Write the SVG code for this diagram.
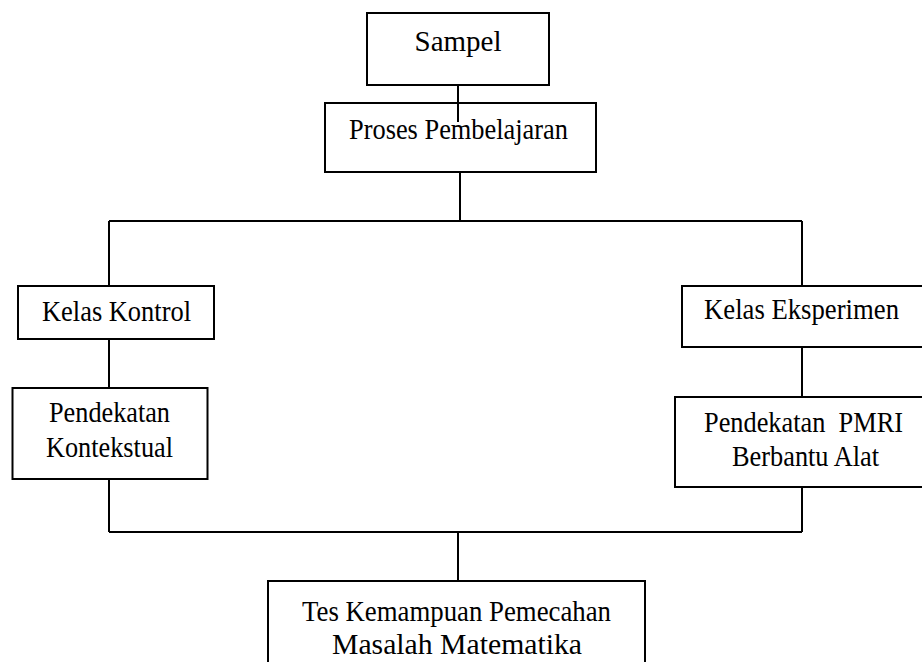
<svg xmlns="http://www.w3.org/2000/svg" width="922" height="662" viewBox="0 0 922 662">
<style>
.box{fill:#fff;stroke:#000;stroke-width:2}
.ln{fill:none;stroke:#000;stroke-width:2}
text{font-family:"Liberation Serif","Times New Roman",serif;font-size:30px;fill:#000;text-anchor:middle}
</style>
<rect width="922" height="662" fill="#fff"/>
<g id="n-sampel">
<rect class="box" x="367" y="13" width="182" height="72"/>
<text x="458" y="51" textLength="87" lengthAdjust="spacingAndGlyphs">Sampel</text>
</g>
<g id="n-proses">
<rect class="box" x="325" y="103" width="271" height="69"/>
<text x="458.5" y="139" textLength="219" lengthAdjust="spacingAndGlyphs">Proses Pembelajaran</text>
</g>
<g id="n-kontrol">
<rect class="box" x="18" y="286" width="196" height="53"/>
<text x="116.5" y="321" textLength="149" lengthAdjust="spacingAndGlyphs">Kelas Kontrol</text>
</g>
<g id="n-eksperimen">
<rect class="box" x="682" y="286" width="241" height="61"/>
<text x="801.5" y="319" textLength="195" lengthAdjust="spacingAndGlyphs">Kelas Eksperimen</text>
</g>
<g id="n-kontekstual">
<rect class="box" x="12.5" y="388" width="195" height="91"/>
<text x="109.5" y="422" textLength="121" lengthAdjust="spacingAndGlyphs">Pendekatan</text>
<text x="109.5" y="457" textLength="127" lengthAdjust="spacingAndGlyphs">Kontekstual</text>
</g>
<g id="n-pmri">
<rect class="box" x="675" y="397" width="250" height="90"/>
<text x="803.5" y="432" textLength="199" lengthAdjust="spacingAndGlyphs">Pendekatan&#160; PMRI</text>
<text x="805.5" y="466" textLength="147" lengthAdjust="spacingAndGlyphs">Berbantu Alat</text>
</g>
<g id="n-tes">
<rect class="box" x="268" y="581" width="377" height="84"/>
<text x="456.5" y="621" textLength="309" lengthAdjust="spacingAndGlyphs">Tes Kemampuan Pemecahan</text>
<text x="457" y="654" textLength="250" lengthAdjust="spacingAndGlyphs">Masalah Matematika</text>
</g>
<g id="connectors">
<path class="ln" d="M458 85V122"/>
<path class="ln" d="M460 172V221"/>
<path class="ln" d="M109 221H802"/>
<path class="ln" d="M109 221V286"/>
<path class="ln" d="M802 221V286"/>
<path class="ln" d="M109 339V388"/>
<path class="ln" d="M802 347V397"/>
<path class="ln" d="M109 479V532"/>
<path class="ln" d="M802 487V532"/>
<path class="ln" d="M109 532H802" stroke-width="2.5"/>
<path class="ln" d="M458 532V581"/>
</g>
</svg>
